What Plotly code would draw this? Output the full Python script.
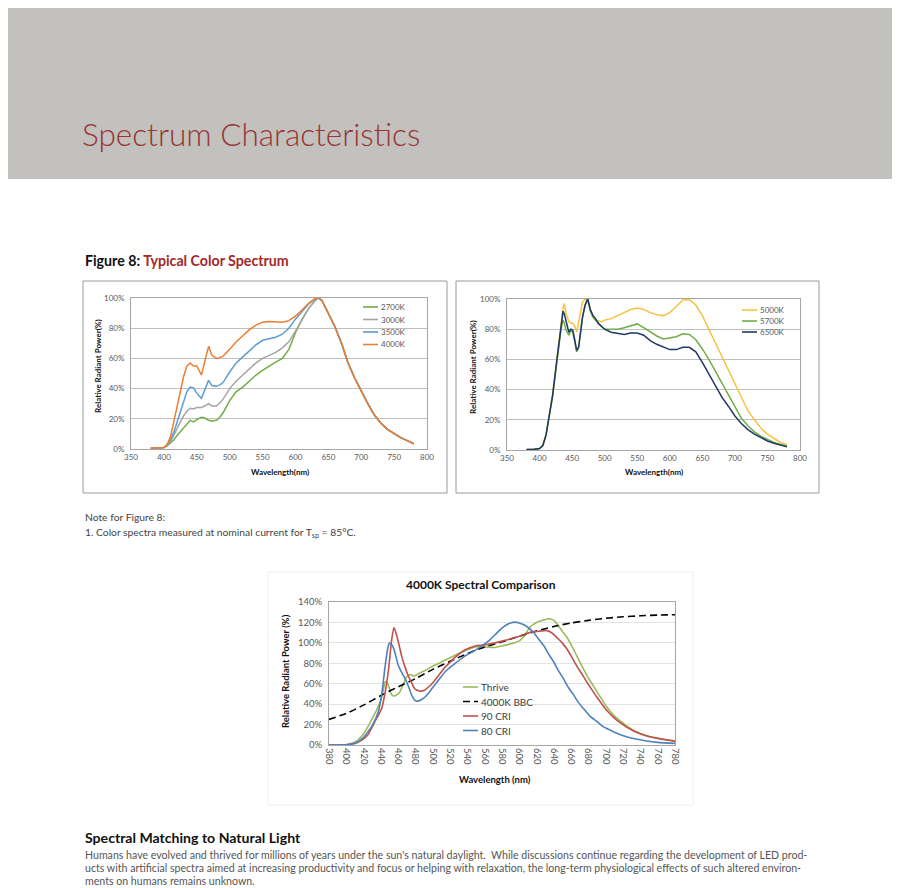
import plotly.graph_objects as go

# ---- Figure 8, left panel: warm CCTs (relative radiant power, %) ----
warm_nm = [380, 390, 400, 405, 410, 415, 420, 425, 430, 435, 440, 445, 450, 457, 462,
           468, 473, 480, 485, 490, 500, 510, 520, 530, 540, 550, 560, 570, 580, 590,
           600, 610, 620, 630, 635]
warm_2700k = [0.5, 0.5, 1, 2, 4, 6, 9, 11.5, 14, 17, 19, 18, 19.5, 21, 20.5,
              19, 18.5, 19, 21, 24, 32, 38, 41, 45, 49, 52, 55, 57.5, 60, 66,
              77, 86, 93, 98.5, 100]
warm_3000k = [0.5, 0.5, 1, 2.5, 5, 9, 14, 18, 22, 25, 27, 26.5, 27.5, 27.5, 28.5,
              30, 28.5, 28.5, 30.5, 33, 40, 45, 49, 53, 57, 60, 62, 64, 67, 71,
              78, 86, 93, 98.5, 100]
warm_3500k = [0.5, 0.5, 1, 3, 6, 11, 18, 25, 32, 38, 41, 40.5, 37, 33.5, 39,
              45.5, 42, 41.5, 42.5, 44, 51, 57, 61, 65, 69, 72, 73, 74, 76, 80,
              86, 91, 96, 99.5, 100]
warm_4000k = [0.5, 0.5, 1, 3, 8, 18, 28, 38, 48, 55, 57, 55, 55, 49, 57,
              68, 62, 60, 60.5, 61.5, 66, 71, 75, 79, 82, 84, 84.5, 84, 84, 85,
              88, 92, 96.5, 99.8, 100]
# all four warm curves run together past the red peak
warm_tail_nm = [640, 650, 660, 670, 680, 690, 700, 710, 720, 730, 740, 750, 760, 770, 780]
warm_tail = [98.5, 90, 81, 70, 57, 47, 38, 30, 22.5, 17, 13, 10, 7.5, 5.5, 3.5]

# ---- Figure 8, right panel: cool CCTs ----
cool_nm = [380, 390, 400, 405, 410, 415, 420, 425, 430, 433, 436, 438, 441, 445, 448,
           451, 454, 457, 460, 463, 466, 470, 474, 478, 482, 486, 490, 495, 500, 510,
           520, 530, 540, 550, 560, 570, 580, 590, 600, 610, 620, 630, 640, 650, 660,
           670, 680, 690, 700, 710, 720, 730, 740, 750, 760, 770, 780]
cool_5000k = [0.3, 0.3, 1, 3, 10, 22, 36, 54, 72, 85, 94, 97, 90, 85, 84,
              84, 82, 78, 84, 92, 98, 100, 99, 93, 88, 86, 85.5, 85, 86, 87,
              89, 91, 93, 94, 93, 91, 89.5, 89, 91, 95, 99.3, 99.6, 96, 89, 80,
              70, 61, 52, 43, 34, 26, 20, 14.5, 10.5, 7.5, 5, 3.5]
cool_5700k = [0.3, 0.3, 1, 3, 10, 22, 36, 53, 70, 80, 86, 84, 79, 76, 79,
              78, 72, 65, 68, 78, 88, 96, 100, 92, 88, 86, 84, 82, 80, 80,
              80, 81, 82.5, 83.5, 81, 78, 75.5, 73.5, 74, 75, 77, 76.5, 73, 67, 60,
              52, 44, 36, 28, 21, 16, 12, 9, 6.8, 5, 3.6, 2.5]
cool_6500k = [0.3, 0.3, 1, 3, 10, 22, 36, 54, 71, 83, 92, 90, 84, 78, 80,
              79.5, 73, 66, 68, 78, 88, 96, 100, 93, 89, 87, 84, 82, 80, 78,
              77, 76.5, 77.5, 77.5, 76, 72.5, 70, 68, 66.5, 66.5, 68, 68, 65, 58, 50,
              42, 35, 29, 22.5, 17.5, 13.5, 10.5, 8, 6, 4.5, 3.2, 2.2]

# ---- 4000K spectral comparison ----
bbc_nm = [380, 400, 420, 440, 460, 480, 500, 520, 540, 560, 580, 600, 620, 640, 660,
          680, 700, 720, 740, 760, 780]
bbc_pct = [25, 31, 39, 48.5, 57, 65, 74, 82, 89.5, 96, 101, 106.5, 111.5, 116, 119.5,
           122, 124, 125.5, 126.5, 127.2, 127.5]
thrive_nm = [380, 390, 400, 405, 410, 415, 420, 425, 430, 435, 440, 443, 445, 448, 452,
             455, 458, 462, 466, 470, 474, 478, 484, 491, 502, 514, 530, 549, 560, 572,
             580, 590, 600, 606, 612, 620, 627, 634, 640, 645, 650, 655, 660, 666, 672,
             678, 684, 690, 701, 713, 732, 751, 765, 780]
thrive_pct = [0, 0, 0.5, 1.5, 3, 6, 11, 18, 26, 34, 44, 55, 62, 60, 50,
              48, 49, 52, 60, 67, 69, 67.5, 70, 73, 78, 83, 89.5, 96, 96, 95.5,
              97, 99, 102, 107, 115, 120, 122, 123.6, 122, 117, 111, 105.5, 98, 88, 78,
              68.5, 60, 52, 37.5, 26, 14.5, 8, 5.5, 3.5]
cri90_nm = [380, 390, 400, 405, 410, 414, 420, 425, 429, 435, 441, 445, 449, 452, 455,
            458, 461, 464, 468, 472, 476, 479, 482, 485, 488, 491, 496, 502, 508, 514,
            520, 526, 537, 549, 560, 572, 584, 597, 608, 616, 624, 632, 636, 640, 645,
            650, 655, 660, 666, 672, 678, 684, 690, 701, 713, 732, 751, 765, 780]
cri90_pct = [0, 0, 0.3, 0.8, 1.5, 3, 6, 10, 16, 26, 36, 52, 75, 100, 115,
             108, 98, 87, 76, 67, 60, 55, 53.5, 52.7, 53, 54, 57.5, 63, 69.5, 76,
             81, 86, 93, 97, 98, 100, 102.5, 105.7, 109, 111, 111.5, 112, 110.6, 108, 104,
             99.5, 94, 87, 78, 70, 61.8, 54, 46.5, 34, 24, 13.7, 8, 5.8, 3.8]
cri80_nm = [380, 390, 400, 405, 410, 415, 420, 425, 430, 437, 441, 445, 448, 450, 452,
            454, 457, 460, 464, 468, 472, 476, 479, 483, 487, 491, 496, 502, 508, 514,
            520, 526, 537, 549, 560, 566, 572, 578, 584, 590, 595, 600, 607, 616, 622,
            628, 634, 640, 645, 651, 657, 663, 668, 674, 682, 690, 697, 705, 714, 724,
            735, 747, 760, 780]
cri80_pct = [0, 0, 0.3, 0.8, 1.6, 4, 7.5, 13, 19, 32.5, 50, 78, 95, 100, 98.5,
             96, 88, 78, 71, 65, 57, 48, 44, 43, 44.5, 47, 52, 58.5, 65, 71.5,
             76, 80, 87, 92.7, 99, 103, 108, 113, 117, 119.5, 120.3, 119.5, 117, 110.6, 104,
             97.6, 89, 81, 73, 65, 56, 48.8, 42, 35.8, 28, 22.8, 18, 14.6, 11, 8.1,
             5.8, 3.9, 2.6, 1.6]

# the page puts the plot 8px in from the top-left corner, so the figure is
# sized to what is left of the 900x888 window and positions are shifted by 8
OFF = 8
W, H = 900 - OFF, 888 - OFF
FONT = "Lato"
BBC_DASH = "7px,4px"


def px(x):
    return max(x - OFF, 0) / W


def py(y):
    return 1 - max(y - OFF, 0) / H


fig = go.Figure()

warm_series = [("2700K", warm_2700k, "#70ad47"), ("3000K", warm_3000k, "#a5a5a5"),
               ("3500K", warm_3500k, "#5b9bd5"), ("4000K", warm_4000k, "#ed7d31")]
for name, vals, color in warm_series:
    fig.add_trace(go.Scatter(x=warm_nm + warm_tail_nm, y=vals + warm_tail, name=name,
                             mode="lines", line=dict(color=color, width=1.5),
                             xaxis="x", yaxis="y", showlegend=False))

cool_series = [("5000K", cool_5000k, "#f7c242"), ("5700K", cool_5700k, "#70ad47"),
               ("6500K", cool_6500k, "#203864")]
for name, vals, color in cool_series:
    fig.add_trace(go.Scatter(x=cool_nm, y=vals, name=name, mode="lines",
                             line=dict(color=color, width=1.5),
                             xaxis="x2", yaxis="y2", showlegend=False))

cmp_series = [("Thrive", thrive_nm, thrive_pct, "#9bbb59", "solid"),
              ("4000K BBC", bbc_nm, bbc_pct, "#000000", BBC_DASH),
              ("90 CRI", cri90_nm, cri90_pct, "#c0504d", "solid"),
              ("80 CRI", cri80_nm, cri80_pct, "#4f81bd", "solid")]
for name, xs, ys, color, dash in cmp_series:
    fig.add_trace(go.Scatter(x=xs, y=ys, name=name, mode="lines",
                             line=dict(color=color, width=1.6, dash=dash, shape="spline",
                                       smoothing=0.6),
                             xaxis="x3", yaxis="y3", showlegend=False))

tick_small = dict(family=FONT, size=8, color="#595959")
tick_mid = dict(family=FONT, size=9.5, color="#595959")


def xax(dom, rng, dtick, anchor, font, **kw):
    d = dict(domain=[px(dom[0]), px(dom[1])], range=rng, dtick=dtick, tick0=rng[0],
             anchor=anchor, showgrid=False, zeroline=False, showline=True, mirror=True,
             linecolor="#a6a6a6", linewidth=1, ticks="", tickfont=font, fixedrange=True,
             automargin=False)
    d.update(kw)
    return d


def yax(dom, rng, anchor, font, grid):
    return dict(domain=[py(dom[1]), py(dom[0])], range=rng, dtick=20, anchor=anchor,
                ticksuffix="%", showgrid=True, gridcolor=grid, gridwidth=1,
                zeroline=False, showline=True, mirror=True, linecolor="#a6a6a6",
                linewidth=1, ticks="", tickfont=font, ticklabelstandoff=4,
                fixedrange=True, automargin=False)


fig.update_layout(
    xaxis=xax((131, 427), [350, 800], 50, "y", tick_small),
    yaxis=yax((298, 449), [0, 100], "x", tick_small, "#bfbfbf"),
    xaxis2=xax((507, 800), [350, 800], 50, "y2", tick_small),
    yaxis2=yax((299, 450), [0, 100], "x2", tick_small, "#bfbfbf"),
    xaxis3=xax((329, 675), [380, 780], 20, "y3", tick_mid, tickangle=90),
    yaxis3=yax((602, 745), [0, 140], "x3", tick_mid, "#e3e3e3"),
)

shapes = [
    # header band
    dict(type="rect", x0=px(3), x1=px(897), y0=py(179), y1=py(3),
         fillcolor="#c2c1bd", line=dict(width=0)),
    # chart frames
    dict(type="rect", x0=px(83), x1=px(447), y0=py(493), y1=py(281),
         line=dict(color="#9a9a9a", width=1)),
    dict(type="rect", x0=px(456), x1=px(819), y0=py(493), y1=py(281),
         line=dict(color="#9a9a9a", width=1)),
    dict(type="rect", x0=px(268), x1=px(693), y0=py(805), y1=py(572),
         line=dict(color="#efefef", width=1)),
]
for s in shapes:
    s.update(xref="paper", yref="paper", layer="below")

annotations = []


def text(x, y, s, size, color="#000000", xanchor="left", angle=0, weight=None):
    font = dict(family=FONT, size=size, color=color)
    if weight:
        font["weight"] = weight
    annotations.append(dict(x=px(x), y=py(y), xref="paper", yref="paper", text=s,
                            showarrow=False, xanchor=xanchor, yanchor="middle",
                            textangle=angle, font=font))


# legend keys drawn as short strokes next to text, like the source charts
def legend(entries, x0, ys, size, color):
    for (name, line_color, dash), y in zip(entries, ys):
        shapes.append(dict(type="line", xref="paper", yref="paper",
                           x0=px(x0), x1=px(x0 + 15), y0=py(y), y1=py(y),
                           line=dict(color=line_color, width=1.6, dash=dash)))
        text(x0 + 16, y, name, size, color)


legend([(n, c, "solid") for n, _, c in warm_series], 363, [307, 319.5, 332, 344.5],
       8, "#595959")
legend([(n, c, "solid") for n, _, c in cool_series], 742, [310, 321, 332], 8, "#595959")
legend([(n, c, d) for n, _, _, c, d in cmp_series], 463, [687, 701.5, 716, 730.5],
       10, "#404040")

text(80, 134, "Spectrum Characteristics", 31.5, "#983434", weight=300)
text(83, 261, "<b>Figure 8: <span style='color:#a3282c'>Typical Color Spectrum</span></b>",
     14.2, "#111111")

text(98, 366, "<b>Relative Radiant Power(%)</b>", 8, "#111111", xanchor="center", angle=-90)
text(280, 472, "<b>Wavelength(nm)</b>", 8, "#111111", xanchor="center")
text(473, 367, "<b>Relative Radiant Power(%)</b>", 8, "#111111", xanchor="center", angle=-90)
text(654, 472, "<b>Wavelength(nm)</b>", 8, "#111111", xanchor="center")

text(83, 517, "Note for Figure 8:", 10.3, "#444444")
text(83, 533, "1. Color spectra measured at nominal current for T<sub>sp</sub> = 85°C.",
     10.3, "#444444")

text(481, 584, "<b>4000K Spectral Comparison</b>", 12, "#111111", xanchor="center")
text(285, 671, "<b>Relative Radiant Power (%)</b>", 9.5, "#111111", xanchor="center",
     angle=-90)
text(495, 779, "<b>Wavelength (nm)</b>", 9.5, "#111111", xanchor="center")

text(83, 837, "<b>Spectral Matching to Natural Light</b>", 14.1, "#111111")
para = [
    "Humans have evolved and thrived for millions of years under the sun's natural daylight.  "
    "While discussions continue regarding the development of LED prod-",
    "ucts with artificial spectra aimed at increasing productivity and focus or helping with "
    "relaxation, the long-term physiological effects of such altered environ-",
    "ments on humans remains unknown.",
]
for i, line in enumerate(para):
    text(83, 855 + 13 * i, line, 10.6, "#555555")

fig.update_layout(
    width=W, height=H,
    margin=dict(l=0, r=0, t=0, b=0, autoexpand=False),
    paper_bgcolor="#ffffff",
    plot_bgcolor="rgba(0,0,0,0)",
    showlegend=False,
    shapes=shapes,
    annotations=annotations,
    font=dict(family=FONT),
)

fig.write_html("out.html")
